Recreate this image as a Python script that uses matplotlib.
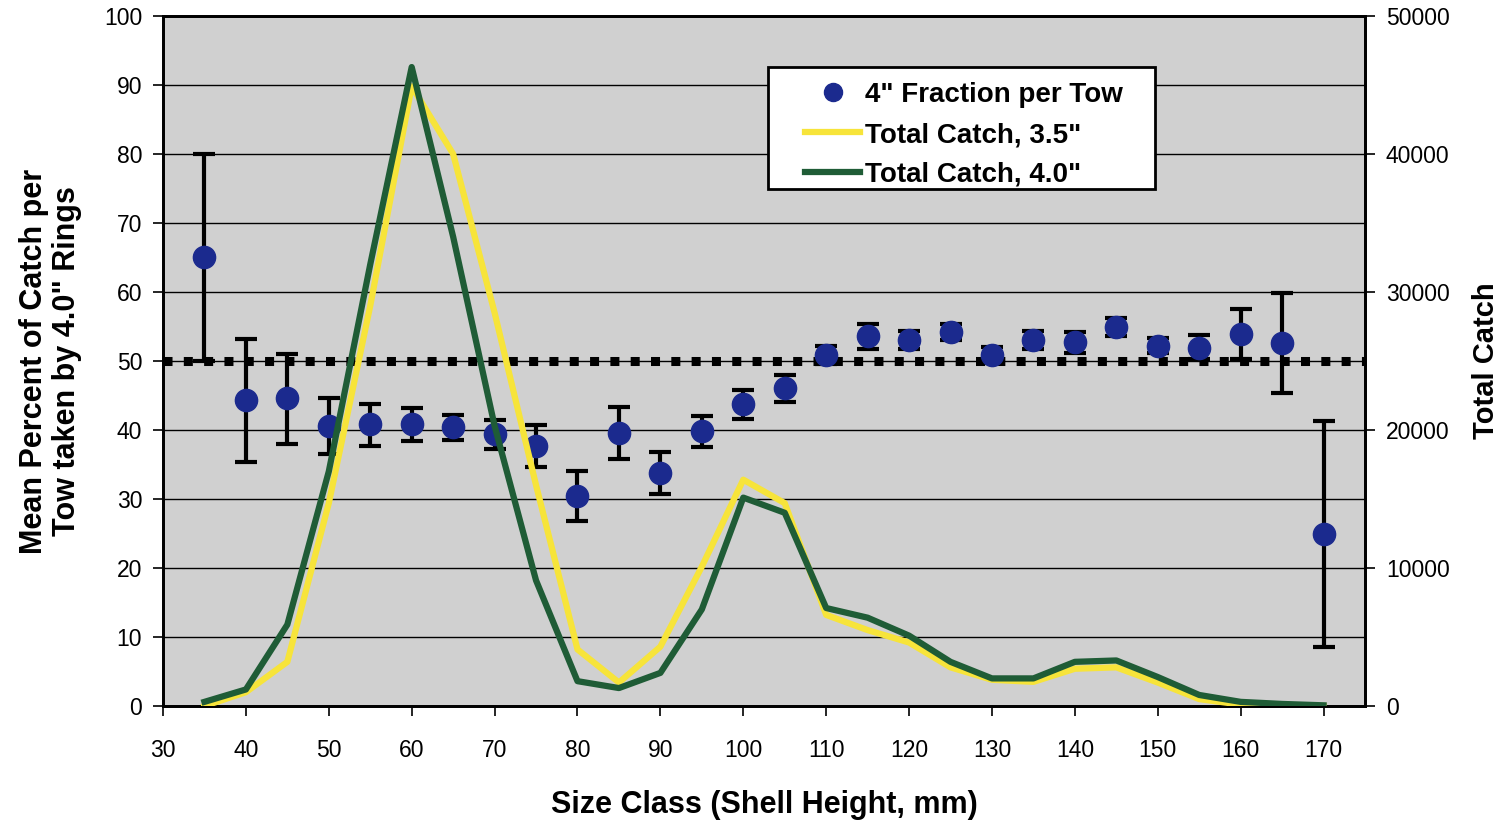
import matplotlib.pyplot as plt
from matplotlib.lines import Line2D
from matplotlib.patches import Rectangle

plt.rcParams['font.family'] = ['Liberation Sans', 'DejaVu Sans']

# size classes (shell height, mm)
size_class = [35, 40, 45, 50, 55, 60, 65, 70, 75, 80, 85, 90, 95, 100,
              105, 110, 115, 120, 125, 130, 135, 140, 145, 150, 155, 160, 165, 170]

# mean percent of catch taken by 4.0" rings, with error bar ends
pct_mean = [65.0, 44.3, 44.7, 40.6, 40.8, 40.9, 40.4, 39.4, 37.7, 30.4, 39.6, 33.7, 39.8, 43.8,
            46.1, 50.8, 53.6, 53.1, 54.2, 50.9, 53.1, 52.7, 54.9, 52.2, 51.9, 53.9, 52.6, 24.9]
pct_low = [50.0, 35.3, 38.0, 36.5, 37.7, 38.4, 38.5, 37.3, 34.6, 26.8, 35.8, 30.7, 37.5, 41.6,
           44.1, 49.6, 51.7, 51.8, 53.0, 49.7, 51.7, 51.2, 53.6, 51.1, 50.3, 50.3, 45.3, 8.5]
pct_high = [80.0, 53.2, 51.0, 44.7, 43.8, 43.2, 42.2, 41.5, 40.7, 34.0, 43.3, 36.8, 42.0, 45.8,
            48.0, 52.2, 55.3, 54.4, 55.4, 52.0, 54.4, 54.2, 56.2, 53.3, 53.7, 57.5, 59.9, 41.3]

# total catch per size class
catch_35 = [0, 1000, 3200, 14700, 29000, 44900, 40000, 28500, 16000, 4100, 1700, 4300, 10100, 16400,
            14700, 6600, 5500, 4600, 2800, 1900, 1750, 2700, 2800, 1700, 500, 100, 0, 0]
catch_40 = [300, 1200, 5900, 17000, 32000, 46300, 34000, 20300, 9100, 1800, 1300, 2400, 7000, 15100,
            14000, 7100, 6400, 5100, 3200, 2000, 2000, 3200, 3300, 2100, 800, 300, 150, 50]

err_lo = [m - l for m, l in zip(pct_mean, pct_low)]
err_hi = [h - m for m, h in zip(pct_mean, pct_high)]

fig = plt.figure(figsize=(15.01, 8.24), dpi=100)
ax = fig.add_axes([0.1086, 0.1432, 0.8008, 0.8374])
ax.set_facecolor('#d0d0d0')

for y in range(10, 100, 10):
    ax.axhline(y, color='black', linewidth=1.0, zorder=1)
ax.axhline(50, color='black', linewidth=6.5, linestyle=(0, (1, 1.25)), zorder=2)

ax.errorbar(size_class, pct_mean, yerr=[err_lo, err_hi], fmt='o', color='#1b2a8e',
            markersize=16, ecolor='black', elinewidth=3, capsize=8, capthick=3, zorder=3)

ax.set_xlim(30, 175)
ax.set_ylim(0, 100)
ax.set_xticks(range(30, 171, 10))
ax.set_yticks(range(0, 101, 10))
ax.tick_params(axis='y', direction='out', length=7, width=1.2, labelsize=16.5, pad=8)
ax.tick_params(axis='x', direction='out', length=7, width=1.2, labelsize=16.5, pad=17)
for s in ax.spines.values():
    s.set_linewidth(2)

ax2 = ax.twinx()
ax2.plot(size_class, catch_35, color='#f7e43a', linewidth=4.5, zorder=4)
ax2.plot(size_class, catch_40, color='#1f5c36', linewidth=4.5, zorder=5)
ax2.set_ylim(0, 50000)
ax2.set_yticks(range(0, 50001, 10000))
ax2.tick_params(axis='y', direction='out', length=7, width=1.2, labelsize=16.5, pad=8)
for s in ax2.spines.values():
    s.set_linewidth(2)

ax.set_xlabel('Size Class (Shell Height, mm)', fontsize=22, fontweight='bold', labelpad=20)
ax.set_ylabel('Mean Percent of Catch per\nTow taken by 4.0" Rings', fontsize=22,
              fontweight='bold', labelpad=16, linespacing=1.1)
ax2.set_ylabel('Total Catch', fontsize=21, fontweight='bold', labelpad=16)

# legend box (white, black edge) drawn separately so the padding matches
box = Rectangle((0.5117, 0.7706), 0.2578, 0.1481, transform=fig.transFigure,
                facecolor='white', edgecolor='black', linewidth=2, zorder=6)
ax2.add_patch(box)

handles = [
    Line2D([], [], marker='o', linestyle='none', color='#1b2a8e', markersize=13),
    Line2D([], [], color='#f7e43a', linewidth=4.5),
    Line2D([], [], color='#1f5c36', linewidth=4.5),
]
labels = ['4" Fraction per Tow', 'Total Catch, 3.5"', 'Total Catch, 4.0"']
leg = ax2.legend(handles, labels, loc='center left', bbox_to_anchor=(0.534, 0.8275),
                 prop={'weight': 'bold', 'size': 20}, frameon=False,
                 handlelength=2.0, handletextpad=0.18,
                 borderpad=0, labelspacing=0.5, borderaxespad=0)
leg.set_zorder(7)

fig.savefig('out.png', dpi=100)
